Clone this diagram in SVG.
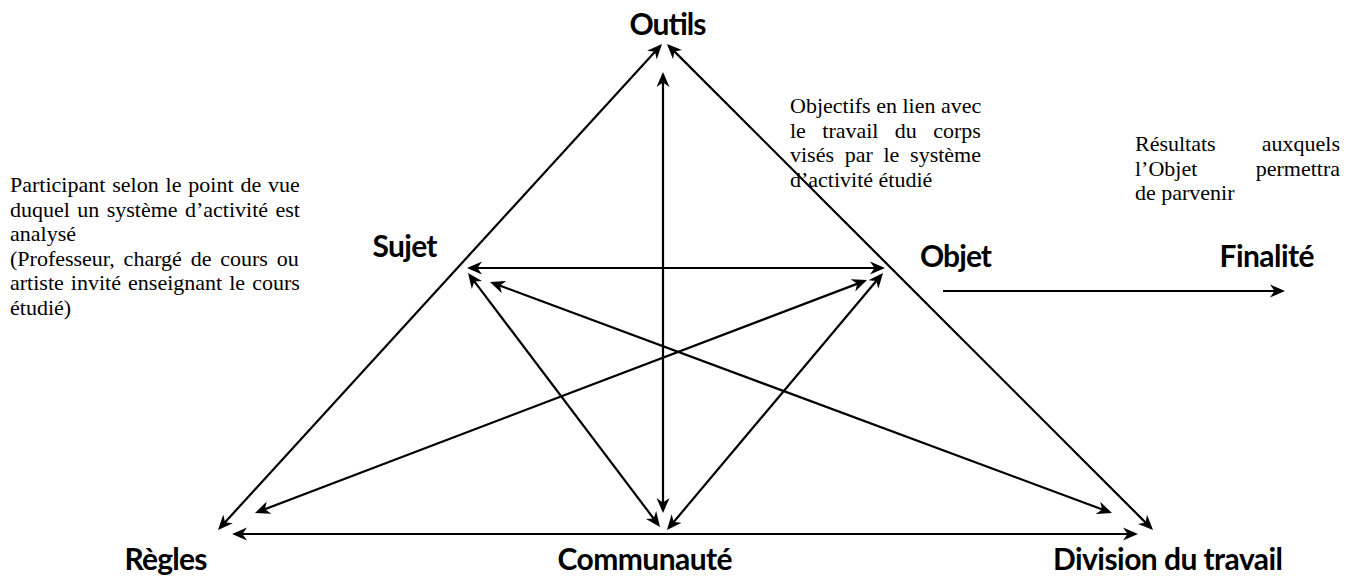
<svg xmlns="http://www.w3.org/2000/svg" width="1348" height="577" viewBox="0 0 1348 577">
  <style>
    .lbl { font-family: "Lato", "Open Sans", "Liberation Sans", sans-serif; font-weight: bold; font-size: 30px; fill: #000; text-anchor: middle; }
    .note { font-family: "Liberation Serif", "Times New Roman", serif; font-size: 22px; fill: #000; }
    .edge { stroke: #000; stroke-width: 2.2; fill: none; }
    .both { marker-start: url(#head); marker-end: url(#head); }
    .one { marker-end: url(#head); }
  </style>
  <defs>
    <!-- notched arrowhead; tip sits 3px beyond the line end -->
    <marker id="head" markerUnits="userSpaceOnUse" viewBox="-15 -7 18 14" refX="-3" refY="0" markerWidth="18" markerHeight="14" orient="auto-start-reverse">
      <path d="M0,0 L-15,-6.5 L-10.5,0 L-15,6.5 Z" fill="#000"/>
    </marker>
  </defs>

  <rect width="1348" height="577" fill="#fff"/>

  <!-- connectors -->
  <g id="connectors">
    <line class="edge both" x1="220" y1="527.8" x2="660" y2="46.2"/>
    <line class="edge both" x1="669.1" y1="46.1" x2="1150.9" y2="527.9"/>
    <line class="edge both" x1="663" y1="75" x2="663" y2="510"/>
    <line class="edge both" x1="235" y1="534" x2="1135" y2="534"/>
    <line class="edge both" x1="470" y1="268" x2="882" y2="268"/>
    <line class="edge both" x1="469.8" y1="275.4" x2="658.2" y2="524.6"/>
    <line class="edge both" x1="881.1" y1="275.3" x2="668.9" y2="527.7"/>
    <line class="edge both" x1="492.8" y1="283" x2="1109.2" y2="512"/>
    <line class="edge both" x1="864.2" y1="281.1" x2="257.8" y2="511.9"/>
    <line class="edge one" x1="943" y1="291" x2="1282" y2="291"/>
  </g>

  <!-- nodes -->
  <g id="outils"><text class="lbl" x="668" y="35" textLength="77">Outils</text></g>
  <g id="sujet"><text class="lbl" x="405" y="257" textLength="65">Sujet</text></g>
  <g id="objet"><text class="lbl" x="956" y="267" textLength="72">Objet</text></g>
  <g id="finalite"><text class="lbl" x="1267" y="267" textLength="95">Finalité</text></g>
  <g id="regles"><text class="lbl" x="166" y="570" textLength="83">Règles</text></g>
  <g id="communaute"><text class="lbl" x="645" y="570" textLength="175">Communauté</text></g>
  <g id="division"><text class="lbl" x="1168" y="570" textLength="230">Division du travail</text></g>

  <!-- descriptive notes (justified lines use word spacing) -->
  <g id="note-sujet" class="note">
    <text x="10" y="192" word-spacing="1.4">Participant selon le point de vue</text>
    <text x="10" y="216.5" word-spacing="1.9">duquel un système d’activité est</text>
    <text x="10" y="241">analysé</text>
    <text x="10" y="265.5" word-spacing="3.3">(Professeur, chargé de cours ou</text>
    <text x="10" y="290" word-spacing="1.6">artiste invité enseignant le cours</text>
    <text x="10" y="314.5">étudié)</text>
  </g>
  <g id="note-objet" class="note">
    <text x="790" y="113">Objectifs en lien avec</text>
    <text x="790" y="137.5" word-spacing="10.9">le travail du corps</text>
    <text x="790" y="162" word-spacing="5.2">visés par le système</text>
    <text x="790" y="186.5">d’activité étudié</text>
  </g>
  <g id="note-finalite" class="note">
    <text x="1135" y="151" word-spacing="40.6">Résultats auxquels</text>
    <text x="1135" y="175.5" word-spacing="52.9">l’Objet permettra</text>
    <text x="1135" y="200">de parvenir</text>
  </g>
</svg>
